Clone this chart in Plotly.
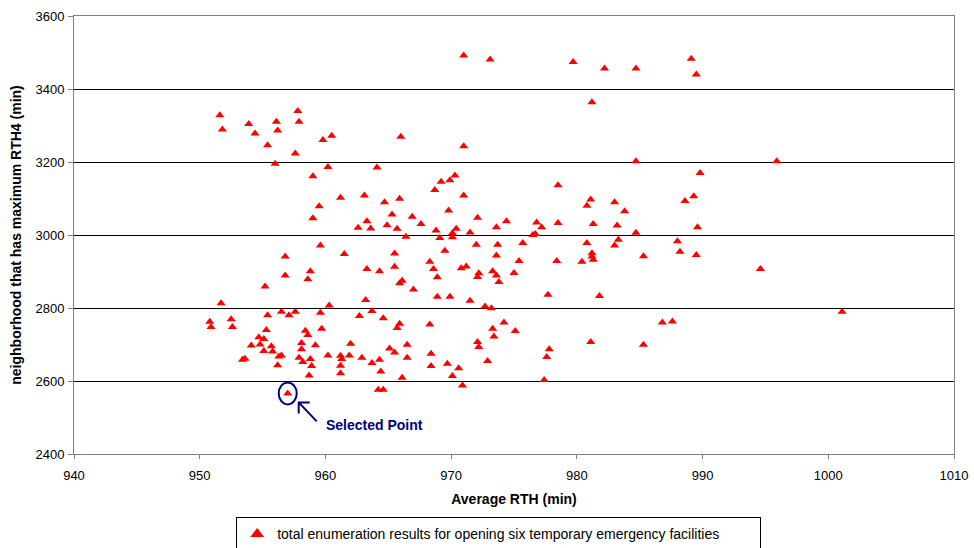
import plotly.graph_objects as go

# Average RTH (min) of each enumerated configuration
avg_rth = [
    951.6, 951.8, 953.9, 954.4, 955.4, 956.1, 956.2, 956.0, 957.8, 957.9, 957.6, 959.8,
    960.5, 960.2, 959.0, 964.1, 961.2, 963.1, 959.5, 959.0, 962.6, 963.3, 963.6,
    959.6, 961.5, 956.8, 963.3, 958.8, 956.8, 958.6, 955.2, 963.2, 960.3, 951.7, 963.7,
    962.7, 955.4, 956.5, 957.1, 957.6, 959.6, 950.8, 950.9, 952.5, 952.6, 955.3, 958.4,
    958.6, 959.7, 954.7, 955.1, 954.8, 954.1, 958.1, 959.2, 962.0, 955.7, 955.8, 955.1,
    958.1, 953.4, 953.6, 956.3, 956.5, 957.9, 958.2, 958.8, 958.9, 956.2, 960.2, 961.2,
    961.3, 961.9, 962.9, 963.7, 961.2, 961.2, 958.7,
    971.0, 973.1, 966.0, 971.0, 970.3, 969.2, 969.9, 978.5, 968.7, 971.0, 964.7, 965.9,
    965.3, 966.9, 967.6, 969.8, 972.1, 964.9, 965.7, 968.8, 970.4, 970.1, 971.5, 973.6,
    974.4, 976.8, 977.2, 978.5, 976.5, 976.7, 966.4, 969.1, 970.1,
    972.0, 973.7, 975.7, 965.5, 969.5, 973.6, 975.4, 978.4, 968.3, 965.5, 964.3, 968.6,
    970.8, 971.2, 968.9, 972.2, 972.1, 973.3, 973.6, 973.8, 975.0, 965.9, 966.1, 967.0,
    968.9, 969.9, 971.5, 977.7, 972.7, 973.2, 964.6, 965.9, 965.7, 968.3, 974.2, 973.3,
    975.1, 973.4, 972.1, 972.2, 966.5, 965.1, 965.5, 968.4, 977.8, 977.6, 966.5, 964.3,
    972.9, 968.4, 969.7, 970.6, 964.4, 970.1, 966.1, 977.4, 970.9, 964.2, 964.6,
    979.7, 982.2, 984.7, 989.1, 989.5, 981.2, 984.7, 995.9, 989.8, 981.1, 980.8, 983.0,
    983.8, 988.6, 989.3, 981.3, 983.2, 984.7, 989.6,
    980.8, 983.3, 983.0, 988.0, 981.2, 981.2, 981.3, 980.4, 985.3, 988.2, 989.5, 994.6,
    981.8, 986.8, 987.6, 981.1, 985.3,
    1001.1,
    957.0,
]

# Maximum neighbourhood RTH4 (min) of each configuration
max_rth4 = [
    3328, 3289, 3304, 3278, 3246, 3310, 3286, 3195, 3340, 3310, 3223, 3260,
    3272, 3186, 3161, 3185, 3102, 3108, 3079, 3046, 3020, 3038, 3018,
    2971, 2948, 2941, 2907, 2901, 2889, 2879, 2859, 2822, 2807, 2813, 2792,
    2778, 2780, 2790, 2780, 2790, 2787, 2762, 2748, 2769, 2748, 2740, 2738,
    2726, 2743, 2720, 2715, 2700, 2697, 2704, 2698, 2702, 2695, 2681, 2682,
    2687, 2658, 2661, 2667, 2670, 2664, 2652, 2660, 2641, 2643, 2670, 2669,
    2660, 2670, 2664, 2649, 2642, 2621, 2615,
    3492, 3481, 3269, 3243, 3163, 3146, 3150, 3136, 3123, 3108, 3090, 3099,
    3056, 3050, 3030, 3067, 3047, 3027, 3017, 3012, 3017, 3005, 3007, 3021,
    3038, 3034, 3021, 3033, 3000, 3003, 2995, 2992, 2994,
    2973, 2973, 2978, 2949, 2957, 2944, 2929, 2929, 2927, 2913, 2901, 2907,
    2909, 2914, 2884, 2895, 2885, 2901, 2889, 2871, 2896, 2868, 2875, 2851,
    2831, 2831, 2820, 2836, 2804, 2799, 2772, 2757, 2745, 2755, 2760, 2743,
    2737, 2722, 2707, 2693, 2699, 2689, 2678, 2675, 2687, 2666, 2664, 2658,
    2655, 2641, 2647, 2635, 2626, 2614, 2609, 2603, 2588, 2576, 2576,
    3474, 3456, 3456, 3483, 3440, 3364, 3202, 3202, 3170, 3097, 3080, 3090,
    3065, 3093, 3106, 3030, 3026, 3006, 3021,
    2978, 2987, 2971, 2983, 2950, 2941, 2932, 2927, 2942, 2954, 2945, 2907,
    2833, 2760, 2763, 2707, 2699,
    2790,
    2566,
]

# index of the configuration highlighted in the chart
selected = len(avg_rth) - 1

x_ticks = [940, 950, 960, 970, 980, 990, 1000, 1010]
y_ticks = [2400, 2600, 2800, 3000, 3200, 3400, 3600]

FONT = "Liberation Sans, Arial, sans-serif"
NAVY = "#000080"

fig = go.Figure()
fig.add_trace(go.Scatter(
    x=avg_rth, y=max_rth4, mode="markers",
    name="total enumeration results for opening six temporary emergency facilities",
    marker=dict(symbol="triangle-up", size=8, color="#FF0000", line=dict(width=0)),
))

sx, sy = avg_rth[selected], max_rth4[selected]

# ellipse around the selected configuration
fig.add_shape(type="circle", xref="x", yref="y", xsizemode="pixel", ysizemode="pixel",
              xanchor=sx, yanchor=sy, x0=-9, x1=9, y0=-11, y1=11,
              line=dict(color=NAVY, width=2))
# arrow pointing at the ellipse
fig.add_shape(type="path", xref="x", yref="y", xsizemode="pixel", ysizemode="pixel",
              xanchor=sx, yanchor=sy,
              path="M 29,-28 L 11,-9 M 22,-9 L 11,-9 L 11,-20",
              line=dict(color=NAVY, width=2))
fig.add_annotation(x=sx, y=sy, xref="x", yref="y", text="<b>Selected Point</b>",
                   showarrow=False, xanchor="left", yanchor="middle",
                   xshift=36, yshift=-32, font=dict(family=FONT, size=14, color=NAVY))

axis_font = dict(family=FONT, size=13, color="#000000")
title_font = dict(family=FONT, size=14, color="#000000")

fig.update_xaxes(
    range=[940, 1010], tickvals=x_ticks, ticktext=[str(v) for v in x_ticks],
    showgrid=False, zeroline=False, showline=True, linecolor="#808080", linewidth=1,
    mirror=True, ticks="outside", ticklen=4, tickcolor="#808080", tickfont=axis_font,
    ticklabelstandoff=5, automargin=False,
    title=dict(text="<b>Average RTH (min)</b>", font=title_font, standoff=12),
)
fig.update_yaxes(
    range=[2400, 3600], tickvals=y_ticks, ticktext=[str(v) for v in y_ticks],
    showgrid=True, gridcolor="#000000", gridwidth=1, zeroline=False,
    showline=True, linecolor="#808080", linewidth=1, mirror=True,
    ticks="outside", ticklen=5, tickcolor="#808080", tickfont=axis_font,
    ticklabelstandoff=1, automargin=False,
    title=dict(text="<b>neighborhood that has maximum RTH4 (min)</b>", font=title_font, standoff=10),
)

fig.update_layout(
    width=974, height=548,
    margin=dict(l=74, r=20, t=16, b=94),
    paper_bgcolor="white", plot_bgcolor="white",
    font=dict(family=FONT, color="#000000"),
    showlegend=True,
    legend=dict(orientation="h", xref="container", yref="container",
                x=0.512, xanchor="center", y=0.056, yanchor="top",
                entrywidth=478, entrywidthmode="pixels",
                bordercolor="#000000", borderwidth=1, bgcolor="white",
                font=dict(family=FONT, size=14, color="#000000"),
                itemsizing="constant"),
)

fig.write_html("out.html")
